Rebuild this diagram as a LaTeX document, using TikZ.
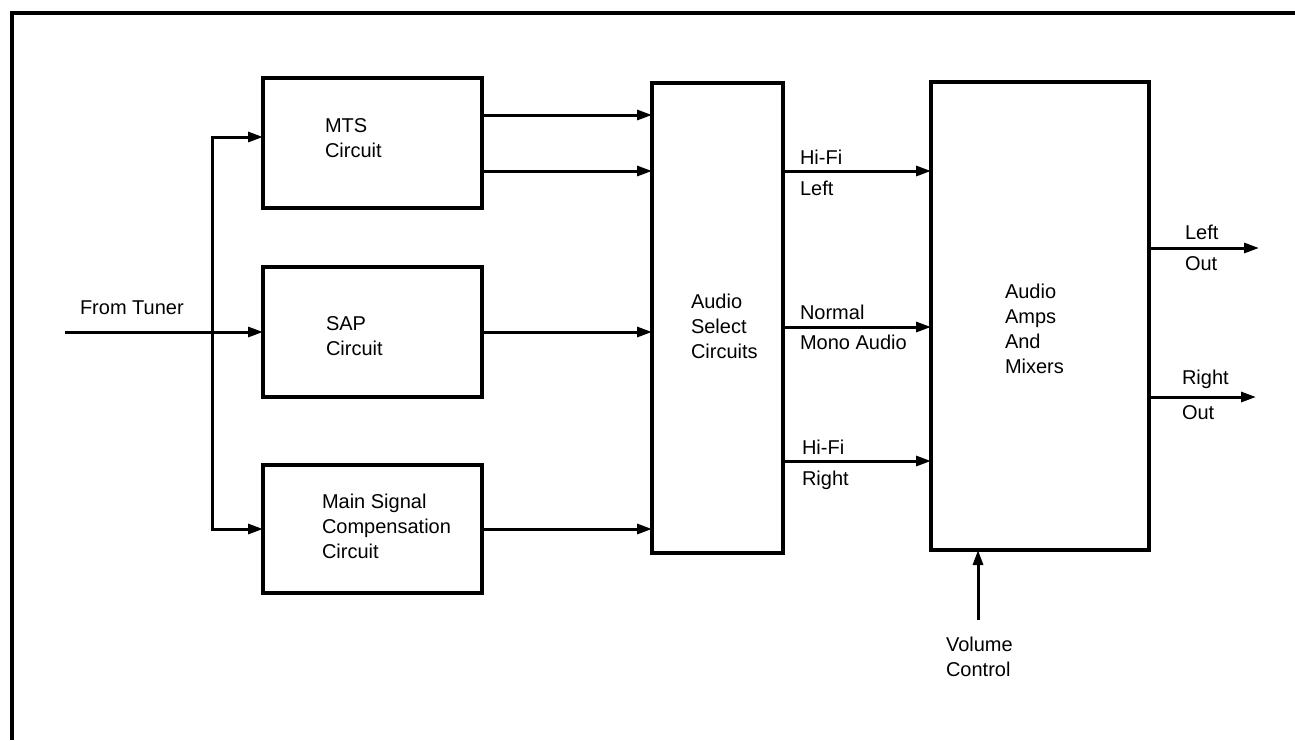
\documentclass[tikz,border=0pt]{standalone}
\usepackage{fontspec}
\setmainfont{Liberation Sans}
\usetikzlibrary{arrows.meta,calc}
\tikzset{
  blk/.style={draw, line width=3.4pt, rectangle, inner sep=0pt, outer sep=0pt, anchor=north west},
  conn/.style={line width=3pt, -{Triangle[length=15pt,width=10pt]}},
  frameline/.style={line width=3.6pt},
  lbl/.style={inner sep=0pt, outer sep=0pt, anchor=base west, font=\fontsize{20}{25}\selectfont},
  blklbl/.style={inner sep=0pt, outer sep=0pt, anchor=north west, align=left, font=\fontsize{20}{25}\selectfont}
}
\begin{document}
\begin{tikzpicture}[x=1pt,y=-1pt]
\useasboundingbox (0,0) rectangle (1295,740);
% frame (top and left only)
\draw[frameline] (12,740) -- (12,13) -- (1295,13);

% blocks
\node[blk, minimum width=219pt, minimum height=130pt] (mts)  at (263,78) {};
\node[blk, minimum width=219pt, minimum height=130pt] (sap)  at (263,267) {};
\node[blk, minimum width=219pt, minimum height=128pt] (main) at (263,465) {};
\node[blk, minimum width=131pt, minimum height=470pt] (sel)  at (652,83) {};
\node[blk, minimum width=218pt, minimum height=468pt] (amps) at (931,82) {};

% block texts
\node[blklbl] (tmts)  at (325,118.7) {MTS\\Circuit};
\node[blklbl] (tsap)  at (326,316.7) {SAP\\Circuit};
\node[blklbl] (tmain) at (322,493.7) {Main Signal\\Compensation\\Circuit};
\node[blklbl] (tsel)  at (691,293.7) {Audio\\Select\\Circuits};
\node[blklbl] (tamps) at (1005,284) {Audio\\Amps\\And\\Mixers};

% input from tuner
\coordinate (tin) at (65,332);
\coordinate (junc) at (212,332);
\node[lbl] (ltuner) at (80,314) {From Tuner};
\draw[conn] (tin) -- (sap.west);
\draw[conn] (junc) |- (mts.west |- 0,137);
\draw[conn] (junc) |- (main.west |- 0,529);

% into audio select
\draw[conn] (mts.east |- 0,115) -- (sel.west |- 0,115);
\draw[conn] (mts.east |- 0,171) -- (sel.west |- 0,171);
\draw[conn] (sap.east) -- (sel.west |- sap.east);
\draw[conn] (main.east |- 0,529) -- (sel.west |- 0,529);

% select -> amps
\draw[conn] (sel.east |- 0,171) -- (amps.west |- 0,171);
\draw[conn] (sel.east |- 0,327) -- (amps.west |- 0,327);
\draw[conn] (sel.east |- 0,461) -- (amps.west |- 0,461);
\node[lbl] (lhf1) at (800,164) {Hi-Fi};
\node[lbl] (lleft) at (800,195) {Left};
\node[lbl] (lnorm) at (800,319) {Normal};
\node[lbl] (lmono) at (800,349) {Mono Audio};
\node[lbl] (lhf2) at (802,454) {Hi-Fi};
\node[lbl] (lright) at (802,485) {Right};

% outputs
\coordinate (lout) at (1259,248);
\coordinate (rout) at (1256,397);
\draw[conn] (amps.east |- lout) -- (lout);
\draw[conn] (amps.east |- rout) -- (rout);
\node[lbl] (lo1) at (1185,239) {Left};
\node[lbl] (lo2) at (1185,270) {Out};
\node[lbl] (ro1) at (1182,384) {Right};
\node[lbl] (ro2) at (1182,419) {Out};

% volume control
\coordinate (vol) at (978,620);
\draw[conn] (vol) -- (amps.south -| vol);
\node[blklbl] (tvol) at (946,637) {Volume\\Control};
\end{tikzpicture}
\end{document}
